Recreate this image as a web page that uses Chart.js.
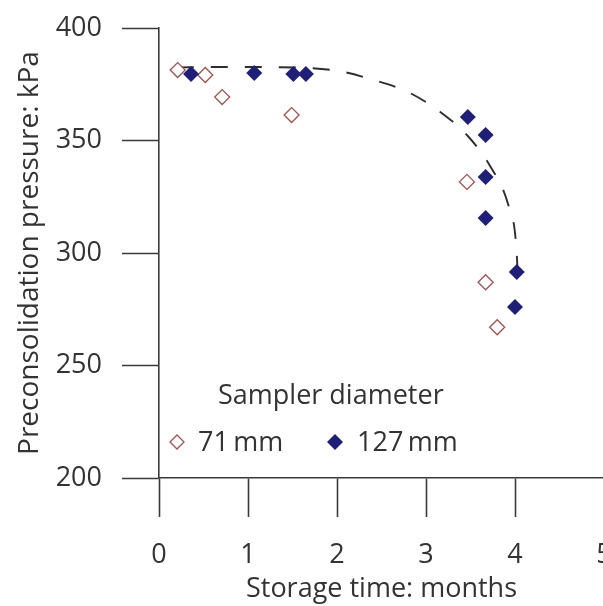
<!DOCTYPE html>
<html lang="en">
<head>
<meta charset="utf-8">
<title>Preconsolidation pressure vs storage time</title>
<script src="https://cdn.jsdelivr.net/npm/chart.js@4.4.1/dist/chart.umd.min.js"></script>
<style>
  html, body { margin: 0; padding: 0; background: #fff; }
  #marco { width: 603px; height: 606px; overflow: hidden; position: relative; }
  #grafico { display: block; }
</style>
</head>
<body>
<div id="marco">
  <canvas id="grafico" width="640" height="606"></canvas>
</div>
<script>
// ─── Datos ────────────────────────────────────────
const tiempo71   = [0.21, 0.52, 0.71, 1.49, 3.46, 3.67, 3.80];
const presion71  = [381.3, 379.1, 369.3, 361.3, 331.6, 287.0, 267.0];

const tiempo127  = [0.36, 1.07, 1.51, 1.65, 3.47, 3.67, 3.67, 3.67, 4.02, 4.00];
const presion127 = [379.6, 380.0, 379.6, 379.6, 360.4, 352.4, 333.8, 315.6, 291.6, 276.0];

// curva discontinua
const tiempoCurva  = [0.20, 0.80, 1.30, 2.00, 2.40, 2.80, 3.16, 3.47, 3.73, 3.92, 4.01, 4.04];
const presionCurva = [382.5, 382.7, 382.6, 381.0, 377.0, 371.5, 362.7, 352.0, 338.0, 322.0, 305.0, 284.0];

const ticksX = [0, 1, 2, 3, 4, 5];
const ticksY = [200, 250, 300, 350, 400];

const tituloX = 'Storage time: months';
const tituloY = 'Preconsolidation pressure: kPa';
const tituloLeyenda = 'Sampler diameter';
const etiquetas = ['71\u2009mm', '127\u2009mm'];

// ─── Estilo ───────────────────────────────────────
const colorEje   = '#3a3a3a';
const colorTexto = '#333333';
const colorRojo  = '#a0524e';
const colorAzul  = '#1f1f78';
const fuente     = "'Open Sans', sans-serif";
const tamTexto   = 27;

Chart.defaults.font.family = fuente;
Chart.defaults.color = colorTexto;

const pares = (xs, ys) => xs.map((x, i) => ({ x: x, y: ys[i] }));

function rombo(c, x, y, r) {
  c.beginPath();
  c.moveTo(x, y - r);
  c.lineTo(x + r, y);
  c.lineTo(x, y + r);
  c.lineTo(x - r, y);
  c.closePath();
}

// ─── Leyenda dibujada dentro del área ─────────────
const leyendaInterna = {
  id: 'leyendaInterna',
  afterDraw(chart) {
    const c = chart.ctx;
    const izq = chart.chartArea.left;
    const yFila = 442;
    c.save();
    c.font = tamTexto + 'px ' + fuente;
    c.textBaseline = 'middle';
    c.textAlign = 'left';
    c.fillStyle = colorTexto;
    c.fillText(tituloLeyenda, izq + 59, 396);

    // rombo vacío (71 mm)
    rombo(c, izq + 18, yFila, 7);
    c.fillStyle = '#fff';
    c.fill();
    c.strokeStyle = colorRojo;
    c.lineWidth = 1.3;
    c.stroke();
    c.fillStyle = colorTexto;
    c.fillText(etiquetas[0], izq + 39, yFila + 1);

    // rombo lleno (127 mm)
    rombo(c, izq + 176, yFila, 8);
    c.fillStyle = colorAzul;
    c.fill();
    c.fillStyle = colorTexto;
    c.fillText(etiquetas[1], izq + 198, yFila + 1);
    c.restore();
  }
};

// ─── Gráfico ──────────────────────────────────────
const ctx = document.getElementById('grafico').getContext('2d');

new Chart(ctx, {
  type: 'scatter',
  data: {
    datasets: [
      {
        label: etiquetas[1],
        data: pares(tiempo127, presion127),
        pointStyle: 'rectRot',
        pointRadius: 8,
        pointBackgroundColor: colorAzul,
        pointBorderColor: colorAzul,
        pointBorderWidth: 0,
        order: 0
      },
      {
        label: etiquetas[0],
        data: pares(tiempo71, presion71),
        pointStyle: 'rectRot',
        pointRadius: 7.5,
        pointBackgroundColor: '#fff',
        pointBorderColor: colorRojo,
        pointBorderWidth: 1.3,
        order: 1
      },
      {
        type: 'line',
        label: 'ajuste',
        data: pares(tiempoCurva, presionCurva),
        borderColor: '#2e2e2e',
        borderWidth: 1.9,
        borderDash: [17, 17],
        pointRadius: 0,
        fill: false,
        cubicInterpolationMode: 'monotone',
        order: 2
      }
    ]
  },
  options: {
    responsive: false,
    animation: false,
    layout: { padding: { top: 28, right: 36, left: 0, bottom: 0 } },
    plugins: {
      legend: { display: false },
      tooltip: { enabled: false }
    },
    scales: {
      x: {
        type: 'linear',
        min: 0,
        max: 5,
        afterBuildTicks: (eje) => { eje.ticks = ticksX.map(v => ({ value: v })); },
        afterFit: (eje) => { eje.height = 128; },
        border: { display: true, color: colorEje, width: 1.6 },
        grid: { drawOnChartArea: false, drawTicks: true, tickLength: 39, tickColor: colorEje, tickWidth: 1.6 },
        ticks: { font: { size: tamTexto }, padding: 22, color: colorTexto },
        title: { display: true, text: tituloX, font: { size: tamTexto }, padding: { top: 0, bottom: 0 }, color: colorTexto }
      },
      y: {
        type: 'linear',
        min: 200,
        max: 400,
        afterBuildTicks: (eje) => { eje.ticks = ticksY.map(v => ({ value: v })); },
        afterFit: (eje) => { eje.width = 159; eje.paddingTop = 0; eje.paddingBottom = 0; },
        border: { display: true, color: colorEje, width: 1.6 },
        grid: { drawOnChartArea: false, drawTicks: true, tickLength: 37, tickColor: colorEje, tickWidth: 1.6 },
        ticks: { font: { size: tamTexto }, padding: 20, color: colorTexto },
        title: { display: true, text: tituloY, font: { size: 28 }, padding: { top: 13, bottom: 0 }, color: colorTexto }
      }
    }
  },
  plugins: [leyendaInterna]
});
</script>
</body>
</html>
